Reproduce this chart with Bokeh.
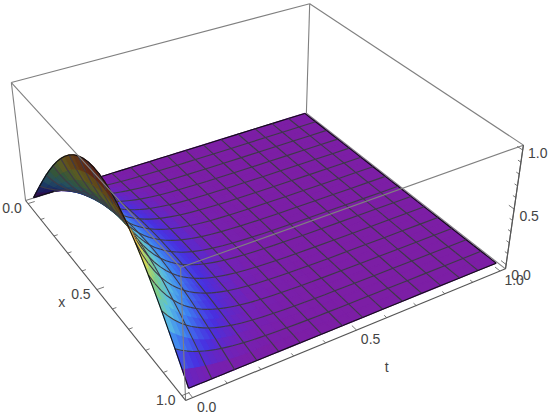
import numpy as np
from bokeh.plotting import figure
from bokeh.models import Range1d, ColumnDataSource
from bokeh.embed import file_html
from bokeh.resources import INLINE
from bokeh.core.properties import value

# ---- data -----------------------------------------------------------------
arch = [0, .105, .208, .309, .407, .5, .588, .669, .743, .809, .866, .914, .951, .978, .995, 1,
        .995, .978, .951, .914, .866, .809, .743, .669, .588, .5, .407, .309, .208, .105, 0]
t_rows = [0, .0167, .0333, .05, .0667, .0833, .1, .1167, .1333, .15, .1667, .1833, .2, .2167, .2333, .25, .2667,
          .3, .3333, .3667, .4, .4333, .4667, .5, .5333, .6, .6667, .7333, .8, .8667, .9333, 1]
decay = [1, .848, .720, .610, .518, .439, .373, .316, .268, .227, .193, .164, .139, .118, .100, .085, .072,
         .0518, .0373, .0268, .0193, .0139, .0100, .0072, .0052, .0027, .0014, .0007, .0004, .0002, .0001, .0001]
x_ticks = [0.0, 0.5, 1.0]
t_ticks = [0.0, 0.5, 1.0]
z_ticks = [0.0, 0.5, 1.0]
tick_labels = ["0.0", "0.5", "1.0"]

# ---- layout / camera ------------------------------------------------------
W, H = 550, 417
PADXY, PADZ = 0.02, 0.04
MESH_CELLS = 15
lo, hi = -PADXY, 1 + PADXY
zlo, zhi = -PADZ, 1 + PADZ
corners3 = [(lo, lo, zlo), (lo, lo, zhi), (hi, lo, zlo), (hi, lo, zhi),
            (hi, hi, zlo), (hi, hi, zhi), (lo, hi, zlo), (lo, hi, zhi)]
corners2 = [(25, 200), (11, 82), (185, 400), (180, 267),
            (505, 268), (523, 145), (306, 113), (309, 3)]
A = []
for (X, Y, Z), (u, v) in zip(corners3, corners2):
    A.append([X, Y, Z, 1, 0, 0, 0, 0, -u * X, -u * Y, -u * Z, -u])
    A.append([0, 0, 0, 0, X, Y, Z, 1, -v * X, -v * Y, -v * Z, -v])
P = np.linalg.svd(np.array(A, float))[2][-1].reshape(3, 4)
cam = np.linalg.svd(P)[2][-1]
cam = cam[:3] / cam[3]


def proj(x, t, z):
    h = P @ np.array([x, t, z, 1.0])
    return h[0] / h[2], h[1] / h[2]


stops_z = [0, .03, .10, .22, .35, .50, .68, .80, .90, 1.0]
stops_c = [(124, 30, 165), (116, 33, 180), (72, 48, 224), (62, 130, 240), (90, 190, 225),
           (125, 205, 140), (225, 215, 75), (235, 160, 55), (225, 100, 50), (205, 45, 40)]


def colour(z, f=1.0):
    c = [np.interp(z, stops_z, [s[i] for s in stops_c]) * f for i in range(3)]
    return "#%02x%02x%02x" % tuple(int(round(v)) for v in c)


xs_grid = np.arange(len(arch)) / (len(arch) - 1)
Z = np.outer(arch, decay)
nx, nt = len(xs_grid), len(t_rows)
S = [[proj(xs_grid[i], t_rows[j], Z[i, j]) for j in range(nt)] for i in range(nx)]
is_mesh_t = [abs(t * MESH_CELLS - round(t * MESH_CELLS)) < 2e-3 for t in t_rows]
MESH = "#3e3a48"
EDGE = "#101014"

items = []
for i in range(nx - 1):
    for j in range(nt - 1):
        p = [np.array([xs_grid[a], t_rows[b], Z[a, b]])
             for a, b in ((i, j), (i + 1, j), (i + 1, j + 1), (i, j + 1))]
        c = sum(p) / 4
        n = np.cross(p[2] - p[0], p[3] - p[1])
        if n[2] < 0:
            n = -n
        top = n @ (cam - c) > 0
        col = colour(c[2], 1.0 if top else 0.42)
        d = np.linalg.norm(cam - c)
        q = [S[i][j], S[i + 1][j], S[i + 1][j + 1], S[i][j + 1]]
        items.append((d, [a[0] for a in q], [a[1] for a in q], col, col, 1.3, 1.0))
        # a mesh line is painted after the cells around it
        lead = 0.3 if t_rows[j] > 0.12 else 0.1
        segs = []
        if i % 2 == 0:
            segs.append((S[i][j], S[i][j + 1], i == 0))
        if i + 1 == nx - 1:
            segs.append((S[i + 1][j], S[i + 1][j + 1], True))
        if is_mesh_t[j]:
            segs.append((S[i][j], S[i + 1][j], j == 0))
        if j + 1 == nt - 1:
            segs.append((S[i][j + 1], S[i + 1][j + 1], True))
        for a, b, edge in segs:
            items.append((d - lead, [a[0], b[0]], [a[1], b[1]], col,
                          EDGE if edge else MESH, 1.1, 0.0))

items.sort(key=lambda r: -r[0])
src = ColumnDataSource(dict(xs=[r[1] for r in items], ys=[r[2] for r in items],
                            fc=[r[3] for r in items], lc=[r[4] for r in items],
                            lw=[r[5] for r in items], fa=[r[6] for r in items]))

p = figure(width=W, height=H, x_range=Range1d(0, W), y_range=Range1d(H, 0), output_backend="svg",
           toolbar_location=None, min_border=0)
p.axis.visible = False
p.grid.visible = False
p.outline_line_color = None


def box(a, b, color="#808080", w=1.1, alpha=1.0):
    pa, pb = proj(*a), proj(*b)
    p.line([pa[0], pb[0]], [pa[1], pb[1]], line_color=color, line_width=w, line_alpha=alpha)


# back edges
box((lo, lo, zhi), (lo, hi, zhi))
box((lo, hi, zhi), (hi, hi, zhi))
box((lo, hi, zlo), (lo, hi, zhi))
box((lo, lo, zlo), (lo, lo, zhi))
box((lo, lo, zlo), (lo, hi, zlo))
box((lo, hi, zlo), (hi, hi, zlo))
box((hi, hi, zlo), (hi, hi, zhi), "#707070")

p.patches("xs", "ys", source=src, fill_color="fc", fill_alpha="fa", line_color="lc", line_width="lw")

# front edges, drawn over the surface
box((lo, lo, zhi), (hi, lo, zhi))
box((hi, lo, zhi), (hi, hi, zhi))
box((hi, lo, zlo), (hi, lo, zhi))
AX = "#555555"
box((lo, lo, zlo), (hi, lo, zlo), AX, 1.1)
box((hi, lo, zlo), (hi, hi, zlo), AX, 1.1)
box((hi, hi, zlo), (hi, hi, zhi), AX, 1.1)

# ticks
for k in range(11):
    v = k / 10
    L = 0.022 if k % 5 == 0 else 0.012
    box((v, lo, zlo), (v, lo + L, zlo), AX, 0.8)
    box((hi, v, zlo), (hi - L, v, zlo), AX, 0.8)
    box((hi, hi, v), (hi - L, hi, v), AX, 0.8)

lx, ly, lt = [], [], []
for v, s in zip(x_ticks, tick_labels):
    a = proj(v, lo, zlo)
    lx.append(a[0] - 16); ly.append(a[1] + 4); lt.append(s)
for v, s in zip(t_ticks, tick_labels):
    a = proj(hi, v, zlo)
    lx.append(a[0] + 14); ly.append(a[1] + 9); lt.append(s)
for v, s, dy in zip(z_ticks, tick_labels, [10, 7, 3]):
    a = proj(hi, hi, v)
    lx.append(a[0] + 15); ly.append(a[1] + dy); lt.append(s)
a = proj(0.5, lo, zlo); lx.append(a[0] - 35); ly.append(a[1] + 12); lt.append("x")
a = proj(hi, 0.5, zlo); lx.append(a[0] + 30); ly.append(a[1] + 37); lt.append("t")
p.text(lx, ly, text=lt, text_font=value("Liberation Sans"), text_font_size="14px", text_color="#444444",
       text_align="center", text_baseline="middle")

html = file_html(p, INLINE).replace("<head>", "<head><style>body{margin:0}</style>", 1)
open("out.html", "w").write(html)
